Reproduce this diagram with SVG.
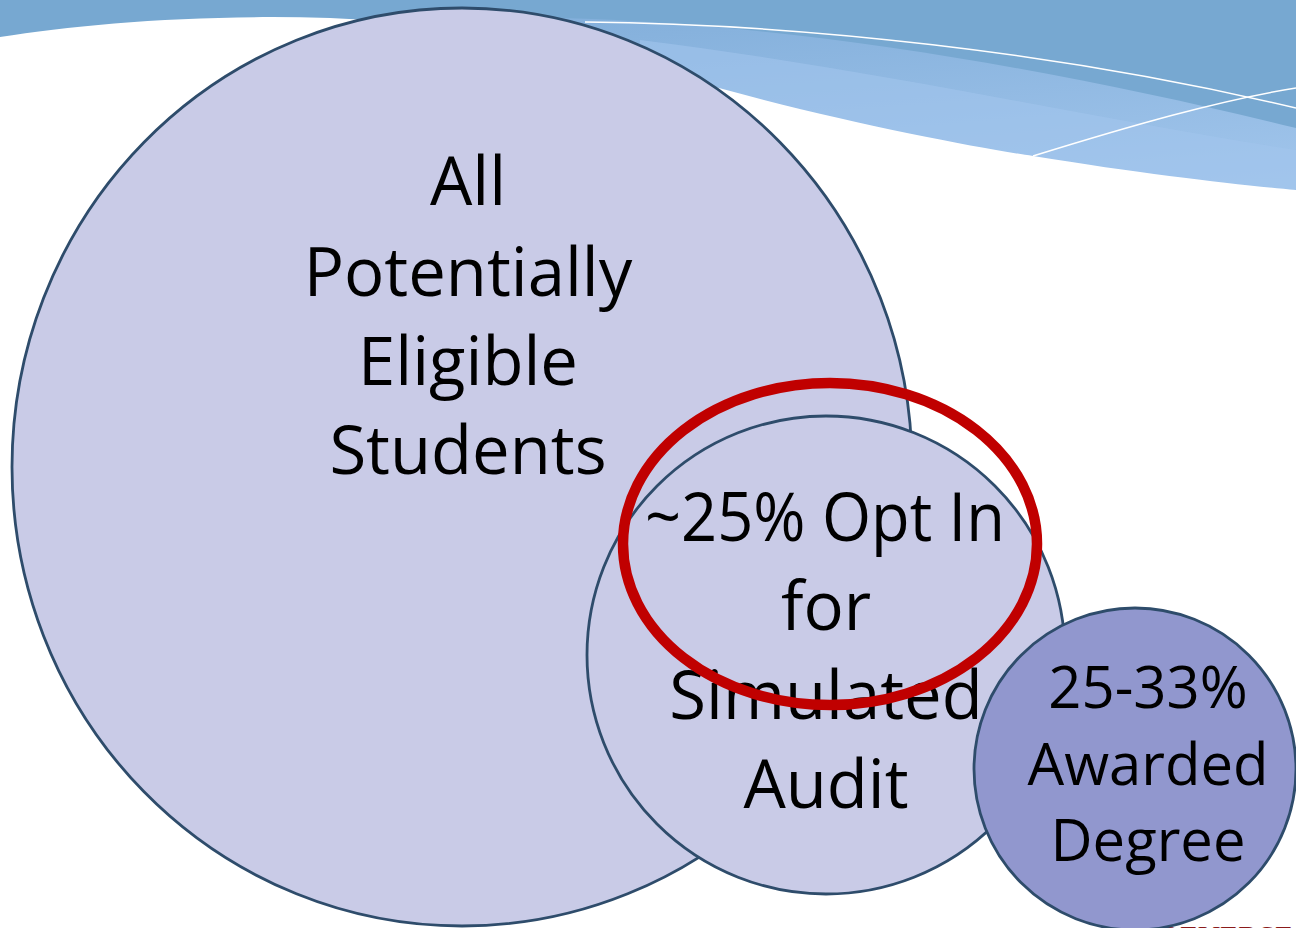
<svg xmlns="http://www.w3.org/2000/svg" width="1296" height="928" viewBox="0 0 1296 928">
<defs>
<linearGradient id="band" x1="0" y1="0" x2="0.3" y2="1">
<stop offset="0" stop-color="#86B1DD"/>
<stop offset="1" stop-color="#A8CAF0"/>
</linearGradient>
<style>
.circ{stroke:#2E4C6B;stroke-width:2.8}
.light{fill:#C9CBE7}
.dark{fill:#9197CE}
.t{font-family:"Open Sans","Noto Sans",sans-serif;fill:#000;text-anchor:middle}
.big{font-size:67px}
.sm{font-size:58px}
.wl{fill:none;stroke:#FFFFFF;stroke-width:1.5}
</style>
</defs>
<g id="banner">
<rect x="0" y="0" width="1296" height="220" fill="#77A8D1"/>
<path d="M560,18 C800,24 1060,70 1296,128 L1296,220 L560,220 Z" fill="url(#band)" opacity="0.85"/>
<path d="M640,40 C880,70 1100,120 1296,150 L1296,220 L640,220 Z" fill="#A2C4EC" opacity="0.6"/>
<path d="M0,37 C80,24 200,14 330,18 C480,24 600,55 719,88 C850,124 980,148 1033,156 C1150,175 1240,185 1296,190 L1296,928 L0,928 Z" fill="#FFFFFF"/>
<path class="wl" d="M585,22 C800,24 1060,52 1296,108"/>
<path class="wl" d="M1033,156 C1130,126 1220,100 1296,88"/>
</g>
<text x="1160" y="946" font-family="Liberation Serif, serif" font-size="30" fill="#8B1A1A">REVERSE</text>
<g id="node-all">
<ellipse class="circ light" cx="462" cy="467" rx="450" ry="459"/>
<text class="t big" x="468" y="205">All</text>
<text class="t big" x="468" y="296">Potentially</text>
<text class="t big" x="468" y="385">Eligible</text>
<text class="t big" x="468" y="474">Students</text>
</g>
<g id="node-optin">
<circle class="circ light" cx="826" cy="655" r="239"/>
<text class="t big" x="825" y="541" textLength="360" lengthAdjust="spacingAndGlyphs">~25% Opt In</text>
<text class="t big" x="826" y="630">for</text>
<text class="t big" x="826" y="719">Simulated</text>
<text class="t big" x="826" y="808">Audit</text>
</g>
<g id="node-awarded">
<circle class="circ dark" cx="1135" cy="769" r="161"/>
<text class="t sm" x="1148" y="708">25-33%</text>
<text class="t sm" x="1148" y="785">Awarded</text>
<text class="t sm" x="1148" y="861">Degree</text>
</g>
<g id="highlight">
<ellipse cx="830" cy="544" rx="207" ry="161" fill="none" stroke="#C00000" stroke-width="10.5"/>
</g>
</svg>
